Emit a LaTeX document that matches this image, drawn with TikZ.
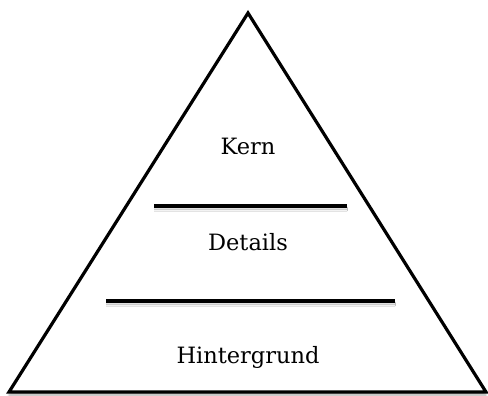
\documentclass[tikz,border=0pt]{standalone}
\usepackage{fontspec}
\setmainfont{DejaVu Serif}
\usetikzlibrary{shadows.blur}

\begin{document}
\begin{tikzpicture}[
  x=1pt,y=-1pt,
  every node/.style={font=\fontsize{22.5}{27}\selectfont},
  edge/.style={line width=3.2pt,line join=miter,blur shadow={shadow xshift=0pt,shadow yshift=-3pt,shadow blur steps=8,shadow opacity=35}},
  label/.style={anchor=base},
]
  \useasboundingbox (0,0) rectangle (488,396);

  % Pyramid
  \coordinate (top) at (248,13);
  \coordinate (bl) at (9,392);
  \coordinate (br) at (486,392);
  \draw[edge,fill=white] (top) -- (bl) -- (br) -- cycle;

  % Separators
  \coordinate (s1l) at (154,206);
  \coordinate (s1r) at (347,206);
  \coordinate (s2l) at (106,301);
  \coordinate (s2r) at (395,301);
  \draw[edge] (s1l) -- (s1r);
  \draw[edge] (s2l) -- (s2r);

  % Layers
  \node[label] (kern) at (248,154) {Kern};
  \node[label] (details) at (248,250) {Details};
  \node[label] (hinter) at (248,363) {Hintergrund};
\end{tikzpicture}
\end{document}
